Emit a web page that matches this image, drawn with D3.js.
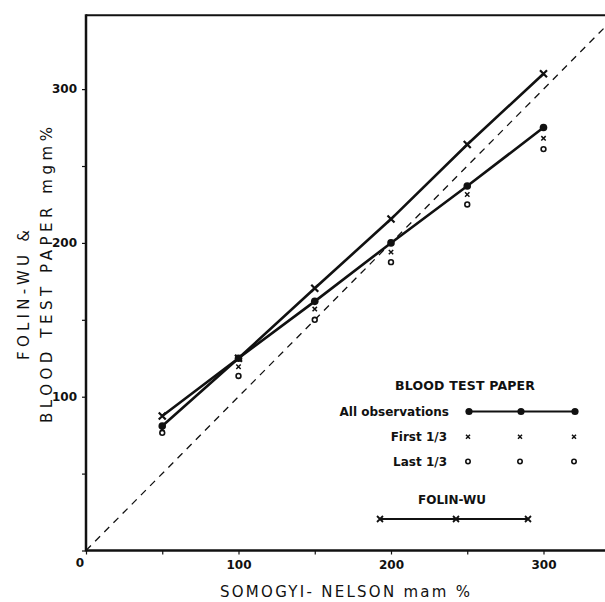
<!DOCTYPE html>
<html>
<head>
<meta charset="utf-8">
<script src="https://cdn.jsdelivr.net/npm/d3@7"></script>
<style>
html,body{margin:0;padding:0;background:#fff;}
svg{display:block;}
text{font-family:"DejaVu Sans",sans-serif;fill:#111;}
</style>
</head>
<body>
<svg id="chart" width="605" height="602"></svg>
<script>
// ---- data ----
const somogyi      = [50, 100, 150, 200, 250, 300];
const folinWu      = [87.5, 125, 170.5, 215.5, 264, 310];
const allObs       = [81, 125, 162, 200, 237, 275];
const firstThird   = [79, 119.5, 157, 194, 231.5, 268];
const lastThird    = [76.5, 113.5, 150, 187.5, 225, 261];
const tickValues   = [0, 50, 100, 150, 200, 250, 300];
const tickLabels   = ["100", "200", "300"];
const identityLine = [0, 340];

const svg = d3.select("#chart");
const ink = "#111";

const x = d3.scaleLinear().domain([0, 340]).range([86, 604.5]);
const y = d3.scaleLinear().domain([0, 348]).range([550.5, 15.3]);

// frame: top border
svg.append("line").attr("x1", x(0)).attr("x2", 605).attr("y1", y(348)).attr("y2", y(348))
  .attr("stroke", ink).attr("stroke-width", 2);

// axes
const fmt = d => tickLabels.includes(String(d)) ? String(d) : "";
const ax = svg.append("g").attr("transform", `translate(0,${y(0)})`)
  .call(d3.axisBottom(x).tickValues(tickValues).tickSize(4).tickSizeOuter(0).tickPadding(6).tickFormat(fmt));
const ay = svg.append("g").attr("transform", `translate(${x(0)},0)`)
  .call(d3.axisLeft(y).tickValues(tickValues).tickSize(4).tickSizeOuter(0).tickPadding(5).tickFormat(fmt));
[ax, ay].forEach(g => {
  g.select(".domain").remove();
  g.selectAll(".tick line").attr("stroke", ink).attr("stroke-width", 1.2);
  g.selectAll(".tick text").attr("font-size", 12).attr("font-weight", "bold")
    .style("font-family", "'DejaVu Sans',sans-serif").attr("fill", ink);
});
// axis lines
svg.append("line").attr("x1", x(0)).attr("x2", 605).attr("y1", y(0)).attr("y2", y(0))
  .attr("stroke", ink).attr("stroke-width", 2.5);
svg.append("line").attr("x1", x(0)).attr("x2", x(0)).attr("y1", y(0) + 1).attr("y2", y(348) - 1)
  .attr("stroke", ink).attr("stroke-width", 2.5);
svg.append("text").attr("x", x(0) - 6).attr("y", y(0) + 16).attr("text-anchor", "middle")
  .attr("font-size", 12).attr("font-weight", "bold").text("0");

// identity dashed line
svg.append("line")
  .attr("x1", x(identityLine[0])).attr("y1", y(identityLine[0]))
  .attr("x2", x(identityLine[1])).attr("y2", y(identityLine[1]))
  .attr("stroke", ink).attr("stroke-width", 1.3).attr("stroke-dasharray", "7,6");

// lines
const line = d3.line().x(d => x(d[0])).y(d => y(d[1]));
const fwPts = somogyi.map((s, i) => [s, folinWu[i]]);
const aoPts = somogyi.map((s, i) => [s, allObs[i]]);
svg.append("path").attr("d", line(fwPts)).attr("fill", "none").attr("stroke", ink).attr("stroke-width", 2.6);
svg.append("path").attr("d", line(aoPts)).attr("fill", "none").attr("stroke", ink).attr("stroke-width", 2.6);

// markers
function cross(g, cx, cy, r, w) {
  g.append("path").attr("d", `M${cx - r},${cy - r}L${cx + r},${cy + r}M${cx - r},${cy + r}L${cx + r},${cy - r}`)
    .attr("stroke", ink).attr("stroke-width", w).attr("fill", "none");
}
function dot(g, cx, cy, r) {
  g.append("circle").attr("cx", cx).attr("cy", cy).attr("r", r).attr("fill", ink);
}
function ring(g, cx, cy, r) {
  g.append("circle").attr("cx", cx).attr("cy", cy).attr("r", r).attr("fill", "#fff").attr("stroke", ink).attr("stroke-width", 1.6);
}
const mk = svg.append("g");
fwPts.forEach(p => cross(mk, x(p[0]), y(p[1]), 3.5, 2.2));
aoPts.forEach(p => dot(mk, x(p[0]), y(p[1]), 3.8));
somogyi.forEach((s, i) => cross(mk, x(s), y(firstThird[i]), 2.2, 1.5));
somogyi.forEach((s, i) => ring(mk, x(s), y(lastThird[i]), 2.4));

// legend
const lg = svg.append("g");
const lx = [469, 521, 575];
lg.append("text").attr("x", 465).attr("y", 390).attr("text-anchor", "middle")
  .attr("font-size", 12.5).attr("font-weight", "bold").attr("textLength", 140).text("BLOOD TEST PAPER");
lg.append("text").attr("x", 449).attr("y", 416).attr("text-anchor", "end")
  .attr("font-size", 12).attr("font-weight", "bold").text("All observations");
lg.append("line").attr("x1", lx[0]).attr("x2", lx[2]).attr("y1", 411.5).attr("y2", 411.5).attr("stroke", ink).attr("stroke-width", 2);
lx.forEach(v => dot(lg, v, 411.5, 3.6));
lg.append("text").attr("x", 447).attr("y", 441).attr("text-anchor", "end")
  .attr("font-size", 12).attr("font-weight", "bold").text("First 1/3");
lx.forEach(v => cross(lg, v - 1, 436.7, 2, 1.5));
lg.append("text").attr("x", 447).attr("y", 466).attr("text-anchor", "end")
  .attr("font-size", 12).attr("font-weight", "bold").text("Last 1/3");
lx.forEach(v => ring(lg, v - 1, 461.5, 2.2));
lg.append("text").attr("x", 452).attr("y", 504).attr("text-anchor", "middle")
  .attr("font-size", 12).attr("font-weight", "600").text("FOLIN-WU");
lg.append("line").attr("x1", 380).attr("x2", 528).attr("y1", 519).attr("y2", 519).attr("stroke", ink).attr("stroke-width", 2);
[380, 456, 528].forEach(v => cross(lg, v, 519, 3, 1.8));

// axis titles
svg.append("text").attr("x", 345).attr("y", 597).attr("text-anchor", "middle")
  .attr("font-size", 15).attr("textLength", 250).text("SOMOGYI- NELSON  mam %");
svg.append("text").attr("transform", "translate(29,360) rotate(-90)")
  .attr("font-size", 15).attr("textLength", 130).text("FOLIN-WU &");
svg.append("text").attr("transform", "translate(52,423) rotate(-90)")
  .attr("font-size", 15).attr("textLength", 296).text("BLOOD TEST PAPER  mgm%");
</script>
</body>
</html>
